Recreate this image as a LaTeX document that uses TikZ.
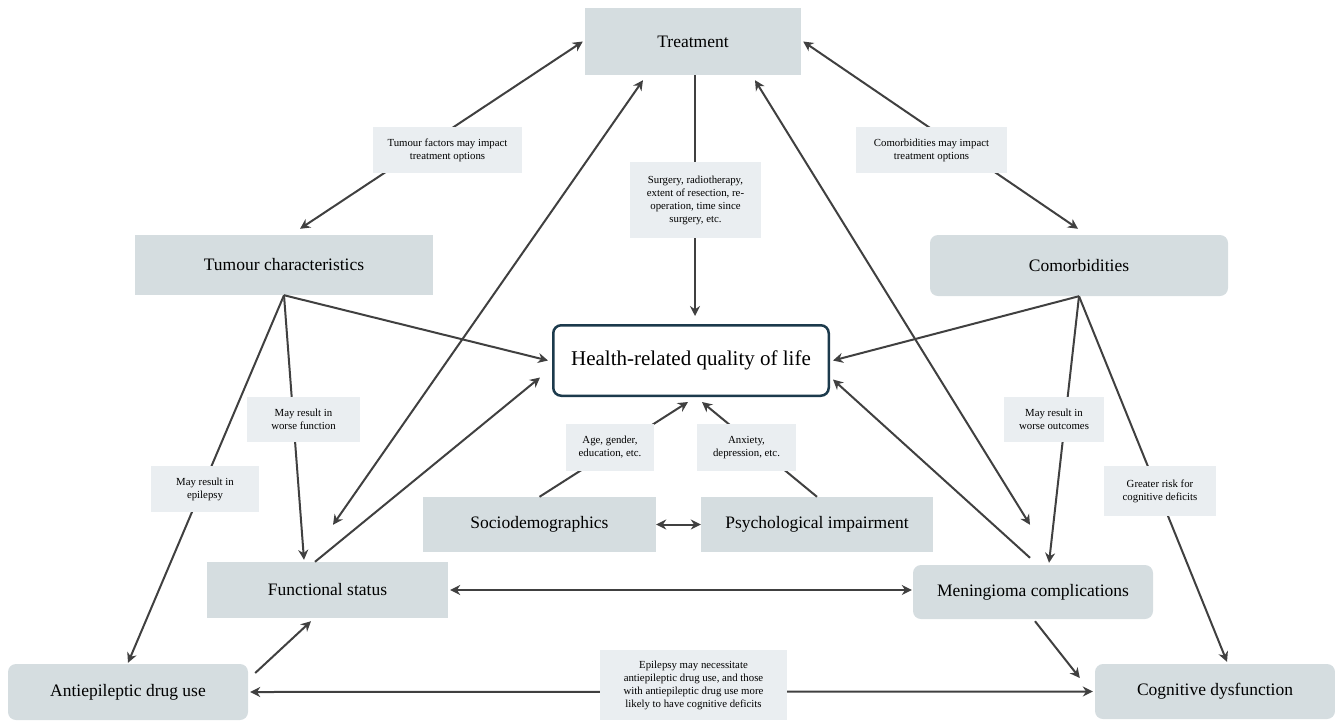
\documentclass[tikz,border=0pt]{standalone}
\usepackage{fontspec}
\setmainfont{Liberation Serif}
\usetikzlibrary{arrows.meta}
\definecolor{boxgray}{HTML}{D5DDE0}
\definecolor{notegray}{HTML}{EAEEF1}
\definecolor{linegray}{HTML}{404040}
\definecolor{qolblue}{HTML}{1C3A4C}

\begin{document}
\begin{tikzpicture}[x=1pt, y=-1pt,
    factor/.style={fill=boxgray, inner sep=0pt, align=center, font=\fontsize{17.5}{21}\selectfont},
    roundfactor/.style={factor, rounded corners=8pt},
    note/.style={fill=notegray, inner sep=0pt, align=center, font=\fontsize{10.8}{13}\selectfont},
    link/.style={draw=linegray, line width=2pt, -{Stealth[length=10pt,width=10pt]}},
    twolink/.style={link, {Stealth[length=10pt,width=10pt]}-{Stealth[length=10pt,width=10pt]}}]

    \useasboundingbox (0,0) rectangle (1335,721);

                \node[factor, minimum width=216pt, minimum height=67pt] (T) at (693,41.5) {Treatment};
                \node[factor, minimum width=298pt, minimum height=60pt] (TC) at (284,265) {Tumour characteristics};
                \node[roundfactor, minimum width=298pt, minimum height=61pt] (C) at (1079,265.5) {Comorbidities};
                \node[draw=qolblue, line width=2.5pt, rounded corners=8pt, fill=white, inner sep=0pt,
                      minimum width=275.5pt, minimum height=70.5pt, font=\fontsize{21}{25}\selectfont] (Q) at (691,360.5) {Health-related quality of life};
                \node[factor, minimum width=233pt, minimum height=55pt] (S) at (539.5,524.5) {Sociodemographics};
                \node[factor, minimum width=232pt, minimum height=55pt] (P) at (817,524.5) {Psychological impairment};
                \node[factor, minimum width=241pt, minimum height=56pt] (F) at (327.5,590) {Functional status};
                \node[roundfactor, minimum width=240pt, minimum height=54pt] (M) at (1033,592) {Meningioma complications};
                \node[roundfactor, minimum width=240pt, minimum height=56pt] (E) at (128,692) {Antiepileptic drug use};
                \node[roundfactor, minimum width=240pt, minimum height=55pt] (D) at (1215,691.5) {Cognitive dysfunction};

                \draw[twolink] ([xshift=16pt,yshift=6pt]TC.north) -- ([xshift=-2pt]T.west);
                \draw[twolink] ([xshift=2pt]T.east) -- ([xshift=-1pt,yshift=6pt]C.north);
                \draw[link] ([xshift=2pt]T.south) -- ([xshift=4pt,yshift=8pt]Q.north);
                \draw[link] (TC.south) -- ([xshift=-4pt]Q.west);
                \draw[link] (TC.south) -- ([xshift=-23.5pt,yshift=2pt]F.north);
                \draw[link] (TC.south) -- ([yshift=1pt]E.north);
                \draw[link] (C.south) -- ([xshift=3pt]Q.east);
                \draw[link] (C.south) -- ([xshift=16pt,yshift=2pt]M.north);
                \draw[link] (C.south) -- ([xshift=12pt,yshift=2pt]D.north);
                \draw[twolink] ([xshift=-50pt,yshift=-5pt]T.south) -- ([xshift=5.5pt,yshift=37pt]F.north);
                \draw[link] ([xshift=-12.5pt]F.north) -- ([xshift=-12pt,yshift=-17pt]Q.west);
                \draw[twolink] ([xshift=62pt,yshift=-5pt]T.south) -- ([xshift=-3pt,yshift=40pt]M.north);
                \draw[link] ([xshift=-3pt,yshift=7pt]M.north) -- ([xshift=3pt,yshift=-19pt]Q.east);
                \draw[link] (S.north) -- ([xshift=-3pt,yshift=-5pt]Q.south);
                \draw[link] (P.north) -- ([xshift=11pt,yshift=-5pt]Q.south);
                \draw[twolink] (S.east) -- (P.west);
                \draw[twolink] ([xshift=2pt]F.east) -- ([xshift=-1pt]F.east -| M.west);
                \draw[link] ([xshift=7pt,yshift=19pt]E.east) -- ([xshift=-16.5pt,yshift=-3pt]F.south);
                \draw[link] ([xshift=2pt,yshift=-2pt]M.south) -- ([xshift=-15pt,yshift=13.5pt]D.west);
                \draw[twolink] ([xshift=2pt]E.east) -- ([xshift=-2pt]D.west);

                \node[note, minimum width=149pt, minimum height=46pt] (L1) at (447.5,150) {Tumour factors may impact\\treatment options};
                \node[note, minimum width=131pt, minimum height=76pt] (L2) at (695.5,200) {Surgery, radiotherapy,\\extent of resection, re-\\operation, time since\\surgery, etc.};
                \node[note, minimum width=151pt, minimum height=46pt] (L3) at (931.5,150) {Comorbidities may impact\\treatment options};
                \node[note, minimum width=113pt, minimum height=45pt] (L4) at (303.5,419.5) {May result in\\worse function};
                \node[note, minimum width=108pt, minimum height=46pt] (L5) at (205,489) {May result in\\epilepsy};
                \node[note, minimum width=88pt, minimum height=47pt] (L6) at (610,447.5) {Age, gender,\\education, etc.};
                \node[note, minimum width=99pt, minimum height=47pt] (L7) at (746.5,447.5) {Anxiety,\\depression, etc.};
                \node[note, minimum width=100pt, minimum height=45pt] (L8) at (1054,419.5) {May result in\\worse outcomes};
                \node[note, minimum width=112pt, minimum height=50pt] (L9) at (1160,491) {Greater risk for\\cognitive deficits};
                \node[note, minimum width=187pt, minimum height=70pt] (L10) at (693.5,685) {Epilepsy may necessitate\\antiepileptic drug use, and those\\with antiepileptic drug use more\\likely to have cognitive deficits};

            \end{tikzpicture}
\end{document}
